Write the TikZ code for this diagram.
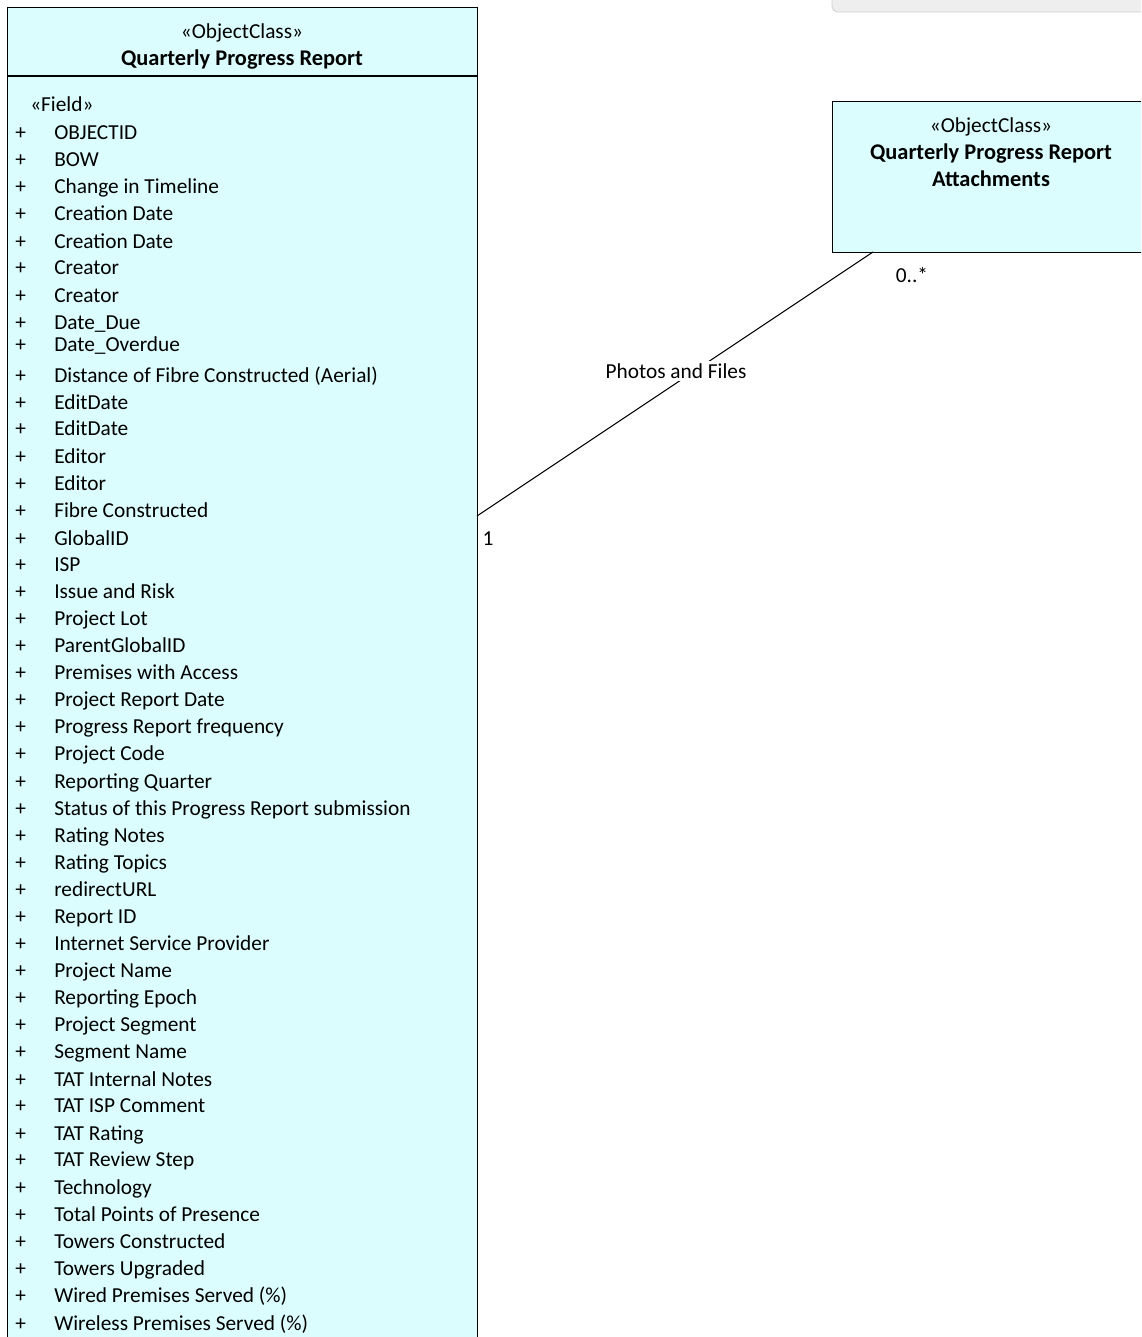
\documentclass[tikz,border=0pt]{standalone}
\usepackage{fontspec}
\setmainfont{Carlito}
\begin{document}
\begin{tikzpicture}[x=0.75pt,y=-0.75pt,
  classbox/.style={draw=black,line width=1.1pt,fill=boxcyan,inner sep=0pt},
  txt/.style={anchor=mid west,inner sep=0pt,font=\fontsize{16}{20}\selectfont},
  ctxt/.style={anchor=mid,inner sep=0pt,font=\fontsize{16}{20.25}\selectfont,align=center},
  btxt/.style={ctxt,font=\fontsize{16.8}{20.25}\selectfont\bfseries},
  assoc/.style={draw=black,line width=0.8pt}]
\definecolor{boxcyan}{HTML}{DBFDFD}
\definecolor{panelgray}{HTML}{EEEEEE}
\definecolor{panelborder}{HTML}{D0D0D0}
\useasboundingbox (0,0) rectangle (1141,1337);
\clip (0,0) rectangle (1141,1337);
% top-right panel
\draw[draw=panelborder,fill=panelgray,rounded corners=4pt,line width=0.6pt] (832,-20) rectangle (1160,12);
% left class box
\node[classbox,minimum width=470*0.75pt,minimum height=1360*0.75pt,anchor=north west] (qpr) at (7,7) {};
\draw[line width=1.1pt] (7,76) -- (477,76);
\node[ctxt] (qprst) at (242,35) {«ObjectClass»};
\node[btxt] (qprname) at (242,62) {Quarterly Progress Report};
\node[txt] (fld) at (30,108) {«Field»};
\foreach \y/\t in {132/OBJECTID,159/BOW,186/Change in Timeline,213/Creation Date,241/Creation Date,267/Creator,295/Creator,322/Date\_Due,344/Date\_Overdue,375/Distance of Fibre Constructed (Aerial),402/EditDate,428/EditDate,456/Editor,483/Editor,510/Fibre Constructed,538/GlobalID,564/ISP,591/Issue and Risk,618/Project Lot,645/ParentGlobalID,672/Premises with Access,699/Project Report Date,726/Progress Report  frequency,753/Project Code,781/Reporting Quarter,808/Status of this Progress Report submission,835/Rating Notes,862/Rating Topics,889/redirectURL,916/Report ID,943/Internet Service Provider,970/Project Name,997/Reporting Epoch,1024/Project Segment,1051/Segment Name,1079/TAT Internal Notes,1105/TAT ISP Comment,1133/TAT Rating,1159/TAT Review Step,1187/Technology,1214/Total Points of Presence,1241/Towers Constructed,1268/Towers Upgraded,1295/Wired Premises Served (\%),1323/Wireless Premises Served (\%)}{
  \node[txt] (p\y) at (15,\y+4) {+};
  \node[txt] (f\y) at (54,\y+4) {\t};
}
% right class box
\node[classbox,minimum width=330*0.75pt,minimum height=151*0.75pt,anchor=north west] (att) at (832,101) {};
\node[ctxt] (attst) at (991,129) {«ObjectClass»};
\node[btxt] (attname1) at (991,156) {Quarterly Progress Report};
\node[btxt] (attname2) at (991,183) {Attachments};
% association
\coordinate (e1) at (477,516);
\coordinate (e2) at (873,252);
\draw[assoc] (e1) -- (e2);
\node[ctxt,fill=white,inner sep=2pt] (lbl) at (676,375) {Photos and Files};
\node[ctxt] (m1) at (488,542) {1};
\node[ctxt] (m2) at (912,279) {0..*};
\end{tikzpicture}
\end{document}
